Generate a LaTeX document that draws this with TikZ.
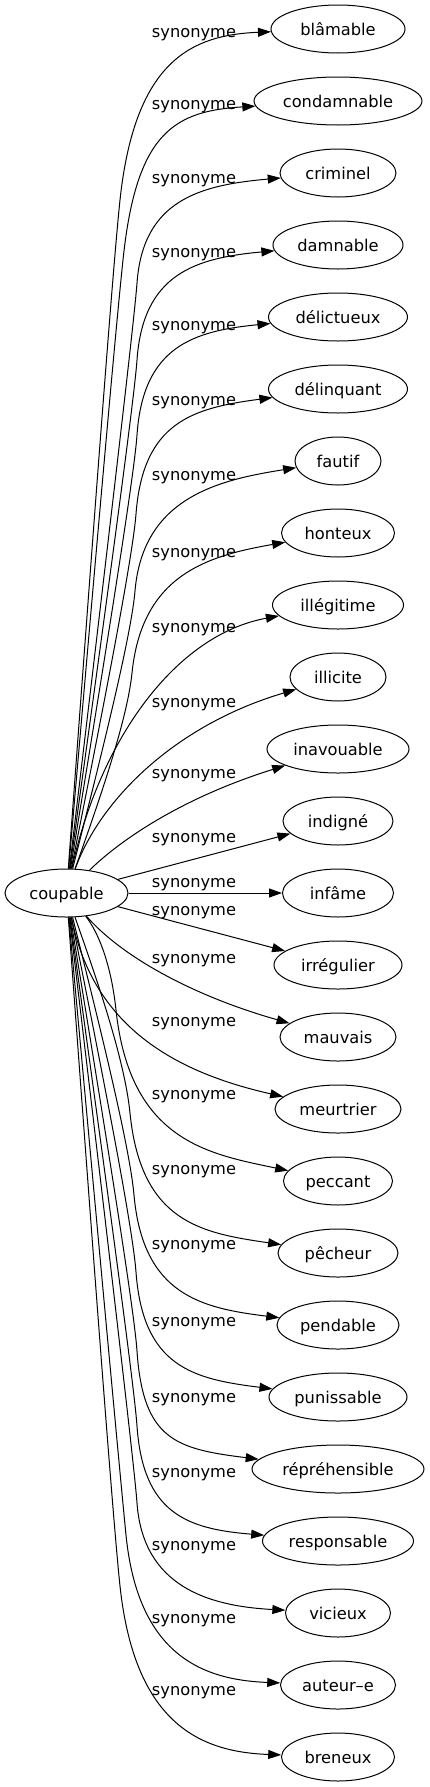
\documentclass[tikz,border=0pt]{standalone}
\usepackage{fontspec}
\setmainfont{DejaVu Sans}
\usetikzlibrary{arrows.meta,shapes.geometric,calc}
\newcommand\fsz{\fontsize{16.25bp}{19bp}\selectfont}
\newcommand\tseg[7]{%
  \coordinate (p) at (#2,#3);
  \coordinate (q) at (#4,#5);
  \coordinate (c2) at ($(p)!-0.5!(q)$);
  \coordinate (c1) at ($(coupable.center)!0.5!(c2)$);
  \draw[lnk] (coupable) .. controls (c1) and (c2) .. (p) .. controls (q) and (#6,#7) .. (#1);}
\begin{document}
\begin{tikzpicture}[x=1bp,y=-1bp,
  syn/.style={ellipse, draw, line width=1bp, inner sep=0pt, minimum height=48bp,
    font=\fsz, text height=15.4bp, text depth=3.4bp},
  lbl/.style={font=\fsz, anchor=base, inner sep=0pt},
  lnk/.style={line width=1bp, -{Triangle[length=13bp,width=9bp]}}]
\useasboundingbox (0,0) rectangle (429,1787);
\node[syn, minimum width=123bp] (coupable) at (66.5,893) {coupable};
\node[syn, minimum width=134bp] (n0) at (338,29) {blâmable};
\node[syn, minimum width=168bp] (n1) at (338,101) {condamnable};
\node[syn, minimum width=116bp] (n2) at (338,173) {criminel};
\node[syn, minimum width=130bp] (n3) at (338,245) {damnable};
\node[syn, minimum width=139bp] (n4) at (338,317) {délictueux};
\node[syn, minimum width=139bp] (n5) at (338,389) {délinquant};
\node[syn, minimum width=86bp] (n6) at (338,461) {fautif};
\node[syn, minimum width=113bp] (n7) at (338,533) {honteux};
\node[syn, minimum width=131bp] (n8) at (338,605) {illégitime};
\node[syn, minimum width=96bp] (n9) at (338,677) {illicite};
\node[syn, minimum width=142bp] (n10) at (338,749) {inavouable};
\node[syn, minimum width=110bp] (n11) at (338,821) {indigné};
\node[syn, minimum width=111bp] (n12) at (338,893) {infâme};
\node[syn, minimum width=128bp] (n13) at (338,965) {irrégulier};
\node[syn, minimum width=116bp] (n14) at (338,1037) {mauvais};
\node[syn, minimum width=126bp] (n15) at (338,1109) {meurtrier};
\node[syn, minimum width=109bp] (n16) at (338,1181) {peccant};
\node[syn, minimum width=120bp] (n17) at (338,1253) {pêcheur};
\node[syn, minimum width=122bp] (n18) at (338,1325) {pendable};
\node[syn, minimum width=138bp] (n19) at (338,1397) {punissable};
\node[syn, minimum width=172bp] (n20) at (338,1469) {répréhensible};
\node[syn, minimum width=151bp] (n21) at (338,1541) {responsable};
\node[syn, minimum width=105bp] (n22) at (338,1613) {vicieux};
\node[syn, minimum width=115bp] (n23) at (338,1685) {auteur–e};
\node[syn, minimum width=113bp] (n24) at (338,1757) {breneux};
% labels
\node[lbl] (l0) at (194,37) {synonyme};
\node[lbl] (l1) at (194,109) {synonyme};
\node[lbl] (l2) at (194,183) {synonyme};
\node[lbl] (l3) at (194,257) {synonyme};
\node[lbl] (l4) at (194,330) {synonyme};
\node[lbl] (l5) at (194,405) {synonyme};
\node[lbl] (l6) at (194,480) {synonyme};
\node[lbl] (l7) at (194,557) {synonyme};
\node[lbl] (l8) at (194,632) {synonyme};
\node[lbl] (l9) at (194,707) {synonyme};
\node[lbl] (l10) at (194,778) {synonyme};
\node[lbl] (l11) at (194,842) {synonyme};
\node[lbl] (l12) at (194,887) {synonyme};
\node[lbl] (l13) at (194,915) {synonyme};
\node[lbl] (l14) at (194,963) {synonyme};
\node[lbl] (l15) at (194,1026) {synonyme};
\node[lbl] (l16) at (194,1099) {synonyme};
\node[lbl] (l17) at (194,1174) {synonyme};
\node[lbl] (l18) at (194,1249) {synonyme};
\node[lbl] (l19) at (194,1326) {synonyme};
\node[lbl] (l20) at (194,1402) {synonyme};
\node[lbl] (l21) at (194,1477) {synonyme};
\node[lbl] (l22) at (194,1550) {synonyme};
\node[lbl] (l23) at (194,1623) {synonyme};
\node[lbl] (l24) at (194,1695) {synonyme};
% edges
\tseg{n0}{120}{200}{135}{60}{192}{35}
\tseg{n1}{124}{251}{138}{131}{176}{111}
\tseg{n2}{137}{283}{143}{200}{200}{185}
\tseg{n3}{137}{360}{143}{274}{195}{258}
\tseg{n4}{137}{435}{143}{347}{192.5}{331}
\tseg{n5}{136}{514}{143}{422}{192.5}{408}
\tseg{n6}{135}{591}{143}{497}{219}{480}
\tseg{n7}{132}{673}{142}{575}{206.5}{556}
\draw[lnk] (coupable) .. controls (100,740) and (175,635) .. (n8);
\draw[lnk] (coupable) .. controls (100,800) and (175,725) .. (n9);
\draw[lnk] (coupable) .. controls (115,845) and (175,800) .. (n10);
\draw[lnk] (coupable) -- (n11);
\draw[lnk] (coupable) -- (n12);
\draw[lnk] (coupable) -- (n13);
\draw[lnk] (coupable) .. controls (120,955) and (190,995) .. (n14);
\draw[lnk] (coupable) .. controls (92,1020) and (165,1070) .. (n15);
\tseg{n16}{116}{1010}{130}{1141}{208.5}{1154}
\tseg{n17}{130}{1113}{141}{1223}{202}{1233}
\tseg{n18}{134}{1195}{143}{1295}{201}{1308}
\tseg{n19}{136}{1272}{143}{1367}{193}{1379}
\tseg{n20}{137}{1351}{143}{1440}{176}{1449}
\tseg{n21}{137}{1426}{143}{1513}{186.5}{1529}
\tseg{n22}{137}{1503}{143}{1586}{207.5}{1606}
\tseg{n23}{126}{1535}{138}{1655}{202.5}{1680}
\tseg{n24}{120}{1586}{135}{1726}{202.5}{1752}
\end{tikzpicture}
\end{document}
